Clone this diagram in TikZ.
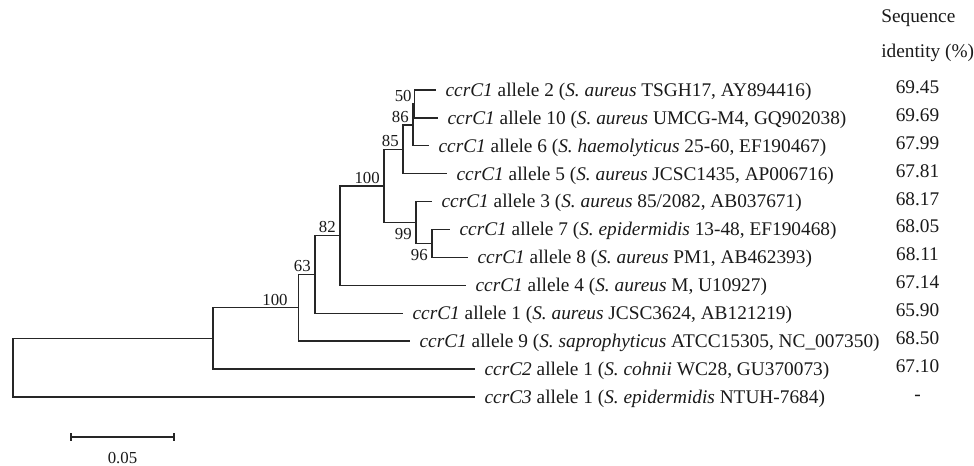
\documentclass[tikz,border=0pt]{standalone}
\usepackage{fontspec}
\setmainfont{Liberation Serif}
\usetikzlibrary{calc}

\begin{document}
\begin{tikzpicture}[x=0.75pt, y=-0.75pt]
    % Define colours
    \definecolor{branchColour}{HTML}{262626}
    \definecolor{textColour}{HTML}{1A1A1A}

    % Macros for the font sizes
    \def\leafSize{\fontsize{14.5}{17}\selectfont}
    \def\bootSize{\fontsize{12.6}{15}\selectfont}

    % Macros for the rows of the leaves
    \def\firstRow{90} % y of the top leaf
    \def\rowGap{27.9} % distance between two leaves
    \def\identX{917.5} % centre of the identity column

    \tikzset{
        branchLine/.style={draw=branchColour, line width=1pt},
        leafLabel/.style={anchor=base west, inner sep=0pt, xshift=7pt, yshift=-4.8pt, text=textColour, font=\leafSize},
        headLabel/.style={anchor=base west, inner sep=0pt, text=textColour, font=\leafSize},
        bootLabel/.style={anchor=base east, inner sep=0pt, xshift=-3pt, yshift=2pt, text=textColour, font=\bootSize},
        bootBelow/.style={anchor=north east, inner sep=0pt, xshift=-3pt, yshift=-4pt, text=textColour, font=\bootSize},
        identLabel/.style={anchor=base, inner sep=0pt, yshift=-2.6pt, text=textColour, font=\leafSize}
    }

    % White page
    \fill[white] (0,0) rectangle (974,466);
    \useasboundingbox (0,0) rectangle (974,466);

    % Ends of the leaves (x is the length of the branch, y is the row)
    \coordinate (a2)  at (436,\firstRow+0*\rowGap);
    \coordinate (a10) at (438,\firstRow+1*\rowGap);
    \coordinate (a6)  at (429,\firstRow+2*\rowGap);
    \coordinate (a5)  at (447,\firstRow+3*\rowGap);
    \coordinate (a3)  at (432,\firstRow+4*\rowGap);
    \coordinate (a7)  at (450,\firstRow+5*\rowGap);
    \coordinate (a8)  at (468,\firstRow+6*\rowGap);
    \coordinate (a4)  at (466,\firstRow+7*\rowGap);
    \coordinate (a1)  at (403,\firstRow+8*\rowGap);
    \coordinate (a9)  at (410,\firstRow+9*\rowGap);
    \coordinate (c2)  at (475,\firstRow+10*\rowGap);
    \coordinate (c3)  at (475,\firstRow+11*\rowGap);

    % Inner nodes, each one half way between its two children
    \coordinate (n50)   at (414.5,\firstRow+0.5*\rowGap);
    \coordinate (n86)   at (413,\firstRow+1.25*\rowGap);
    \coordinate (n85)   at (403,\firstRow+2.125*\rowGap);
    \coordinate (n96)   at (432,\firstRow+5.5*\rowGap);
    \coordinate (n99)   at (416,\firstRow+4.75*\rowGap);
    \coordinate (n100a) at (384,\firstRow+3.4375*\rowGap);
    \coordinate (n82)   at (340,\firstRow+5.21875*\rowGap);
    \coordinate (n63)   at (315,\firstRow+6.609375*\rowGap);
    \coordinate (n100b) at (298.5,\firstRow+7.8046875*\rowGap);
    \coordinate (nJoin) at (213,\firstRow+8.90234*\rowGap);
    \coordinate (nRoot) at (13,\firstRow+9.95117*\rowGap);

    % Draw the branches
    \foreach \p/\c in {nRoot/nJoin, nRoot/c3, nJoin/n100b, nJoin/c2,
                       n100b/n63, n100b/a9, n63/n82, n63/a1, n82/n100a, n82/a4,
                       n100a/n85, n100a/n99, n99/a3, n99/n96, n96/a7, n96/a8,
                       n85/n86, n85/a5, n86/n50, n86/a6, n50/a2, n50/a10}
        \draw[branchLine] (\p) |- (\c);

    % Bootstrap values
    \node[bootLabel, xshift=1pt] (bs50) at (n50) {50};
    \node[bootLabel] (bs86) at (n86) {86};
    \node[bootLabel] (bs85) at (n85) {85};
    \node[bootLabel] (bs100a) at (n100a) {100};
    \node[bootLabel] (bs82) at (n82) {82};
    \node[bootLabel] (bs63) at (n63) {63};
    \node[bootLabel, xshift=-5pt] (bs100b) at (n100b) {100};
    \node[bootBelow] (bs99) at (n99) {99};
    \node[bootBelow] (bs96) at (n96) {96};

    % Label the leaves
    \node[leafLabel] (t2)  at (a2)  {\textit{ccrC1} allele 2 (\textit{S. aureus} TSGH17, AY894416)};
    \node[leafLabel] (t10) at (a10) {\textit{ccrC1} allele 10 (\textit{S. aureus} UMCG-M4, GQ902038)};
    \node[leafLabel] (t6)  at (a6)  {\textit{ccrC1} allele 6 (\textit{S. haemolyticus} 25-60, EF190467)};
    \node[leafLabel] (t5)  at (a5)  {\textit{ccrC1} allele 5 (\textit{S. aureus} JCSC1435, AP006716)};
    \node[leafLabel] (t3)  at (a3)  {\textit{ccrC1} allele 3 (\textit{S. aureus} 85/2082, AB037671)};
    \node[leafLabel] (t7)  at (a7)  {\textit{ccrC1} allele 7 (\textit{S. epidermidis} 13-48, EF190468)};
    \node[leafLabel] (t8)  at (a8)  {\textit{ccrC1} allele 8 (\textit{S. aureus} PM1, AB462393)};
    \node[leafLabel] (t4)  at (a4)  {\textit{ccrC1} allele 4 (\textit{S. aureus} M, U10927)};
    \node[leafLabel] (t1)  at (a1)  {\textit{ccrC1} allele 1 (\textit{S. aureus} JCSC3624, AB121219)};
    \node[leafLabel] (t9)  at (a9)  {\textit{ccrC1} allele 9 (\textit{S. saprophyticus} ATCC15305, NC\_007350)};
    \node[leafLabel] (tc2) at (c2)  {\textit{ccrC2} allele 1 (\textit{S. cohnii} WC28, GU370073)};
    \node[leafLabel] (tc3) at (c3)  {\textit{ccrC3} allele 1 (\textit{S. epidermidis} NTUH-7684)};

    % Sequence identity column
    \node[headLabel] (head1) at (881,23) {Sequence};
    \node[headLabel] (head2) at (881,58) {identity (\%)};
    \foreach \val [count=\i from 0] in {69.45,69.69,67.99,67.81,68.17,68.05,68.11,67.14,65.90,68.50,67.10,-}
        \node[identLabel] (id\i) at (\identX,\firstRow+\i*\rowGap) {\val};

    % Scale bar
    \coordinate (barL) at (71,437);
    \coordinate (barR) at (174,437);
    \draw[branchLine] (barL) -- (barR);
    \draw[branchLine] ($(barL)+(0,-4)$) -- ($(barL)+(0,4)$);
    \draw[branchLine] ($(barR)+(0,-4)$) -- ($(barR)+(0,4)$);
    \node[anchor=base, inner sep=0pt, text=textColour, font=\bootSize] (barText) at (122.5,463) {0.05};

\end{tikzpicture}
\end{document}
